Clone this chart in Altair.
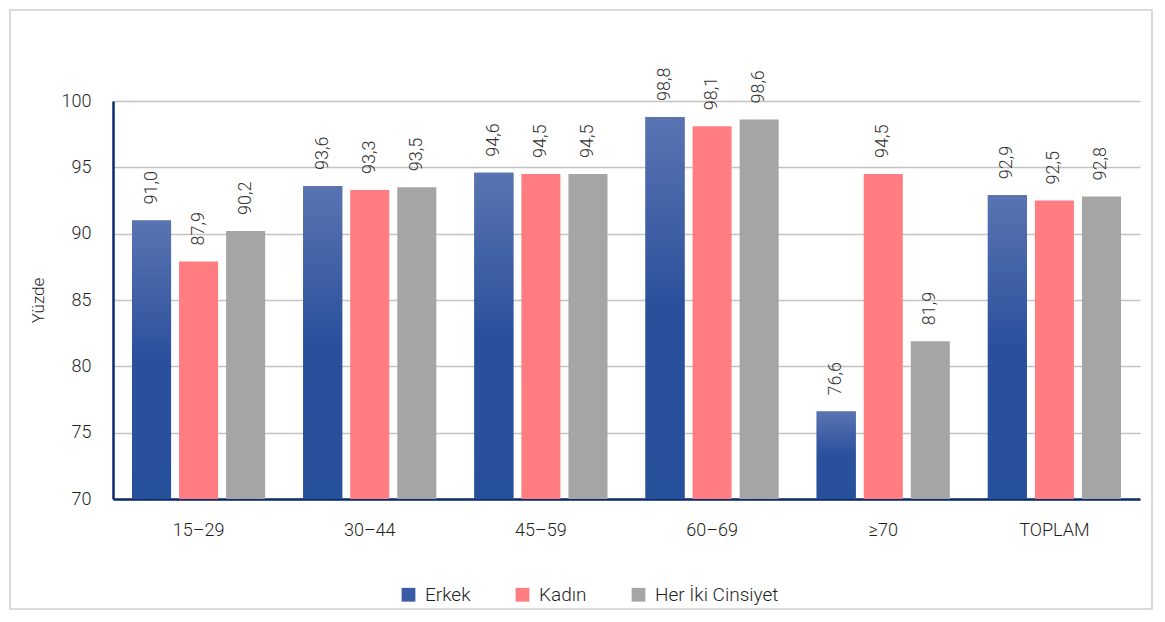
import altair as alt
import pandas as pd

categories = ["15–29", "30–44", "45–59", "60–69", "≥70", "TOPLAM"]
series = ["Erkek", "Kadın", "Her İki Cinsiyet"]
erkek = [91.0, 93.6, 94.6, 98.8, 76.6, 92.9]
kadin = [87.9, 93.3, 94.5, 98.1, 94.5, 92.5]
her_iki = [90.2, 93.5, 94.5, 98.6, 81.9, 92.8]
y_ticks = [70, 75, 80, 85, 90, 95, 100]
colors = ["#3a5ba5", "#ff7c80", "#a5a5a5"]

rows = []
for name, vals in zip(series, [erkek, kadin, her_iki]):
    for c, v in zip(categories, vals):
        rows.append({"grup": c, "seri": name, "deger": v})
df = pd.DataFrame(rows)

FONT = "Roboto"
W, H = 1027, 398

x_enc = alt.X("grup:N", sort=categories, title=None,
              scale=alt.Scale(paddingInner=0.222, paddingOuter=0.111),
              axis=alt.Axis(labelAngle=0, ticks=False, labelPadding=22, labelFontSize=18,
                            labelFontWeight=300,
                            labelColor="#1f1f1f", labelFont=FONT, domainColor="#0d2a6b",
                            domainWidth=2.5, grid=False))
xo_enc = alt.XOffset("seri:N", sort=series,
                     scale=alt.Scale(domain=series, paddingInner=0.17, paddingOuter=0))
y_enc = alt.Y("deger:Q", title="Yüzde",
              scale=alt.Scale(domain=[70, 100], zero=False, nice=False),
              axis=alt.Axis(values=y_ticks, ticks=False, labelPadding=22, labelFontSize=18,
                            labelFontWeight=300,
                            labelColor="#1f1f1f", labelFont=FONT, titleFont=FONT,
                            titleFontSize=17, titleFontWeight=300, titleColor="#1f1f1f",
                            titlePadding=14, domainColor="#0d2a6b", domainWidth=2.5,
                            gridColor="#c3c3c3", gridWidth=1.5))

base = alt.Chart(df)

bars = base.mark_bar().encode(
    x=x_enc, xOffset=xo_enc, y=y_enc, y2=alt.datum(70),
    color=alt.Color("seri:N", sort=series,
                    scale=alt.Scale(domain=series, range=colors),
                    legend=alt.Legend(title=None, orient="none", legendX=286, legendY=484,
                                      direction="horizontal", symbolType="square",
                                      symbolSize=190, symbolStrokeWidth=0,
                                      labelFontSize=19, labelFontWeight=300, labelFont=FONT,
                                      labelColor="#1f1f1f",
                                      columnPadding=42, labelOffset=7)),
)

grad = alt.LinearGradient(
    gradient="linear", x1=0, x2=0, y1=0, y2=1,
    stops=[alt.GradientStop(color="#5a74b2", offset=0),
           alt.GradientStop(color="#2a509c", offset=0.5),
           alt.GradientStop(color="#27509b", offset=1)],
)
erkek_bars = base.transform_filter(alt.datum.seri == "Erkek").mark_bar(color=grad).encode(
    x=x_enc, xOffset=xo_enc, y=y_enc, y2=alt.datum(70)
)

labels = base.transform_calculate(
    lbl="replace(format(datum.deger, '.1f'), '.', ',')"
).mark_text(angle=270, align="left", baseline="middle", dx=16, fontSize=18,
            fontWeight=300, font=FONT, color="#333333").encode(
    x=x_enc, xOffset=xo_enc, y=y_enc, text="lbl:N"
)

border = alt.Chart(pd.DataFrame({"a": [0]})).mark_rect(
    fill="transparent", stroke="#cfcfcf", strokeWidth=1.5
).encode(x=alt.value(-103), x2=alt.value(W + 12), y=alt.value(-91), y2=alt.value(H + 110))

chart = alt.layer(border, bars, erkek_bars, labels).properties(
    width=W, height=H,
    autosize=alt.AutoSizeParams(type="none"),
    padding={"left": 105, "top": 93, "right": 15, "bottom": 113},
    background="white",
).configure_view(stroke=None)

chart.save("out.html", embed_options={"renderer": "svg", "actions": False})
